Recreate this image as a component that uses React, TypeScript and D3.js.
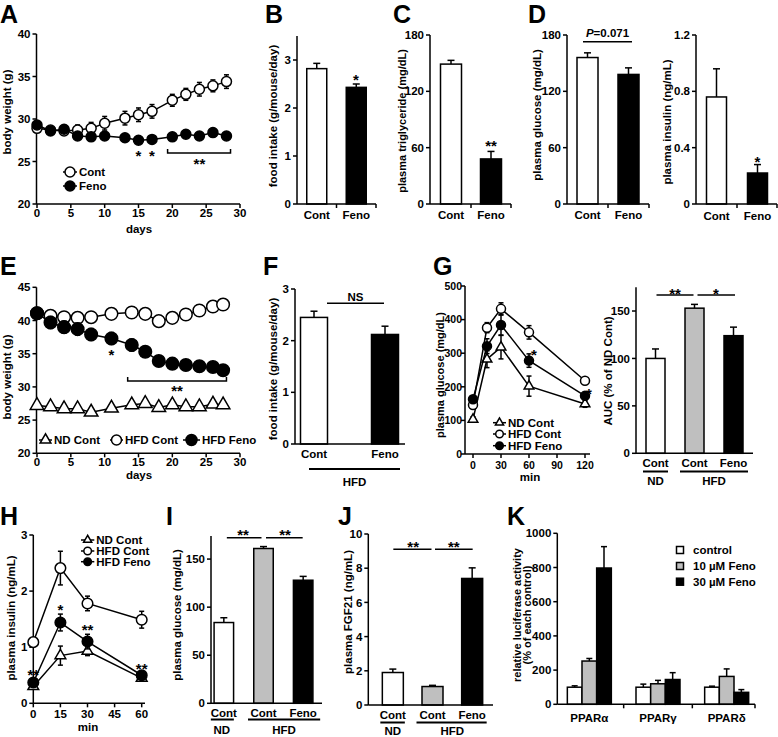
import React from "react";
import * as d3 from "d3";

const FONT = "'Liberation Sans', Arial, Helvetica, sans-serif";
const GREY = "#bfbfbf";
const SW = 1.5;
const FS = 11.5;

// ---------- A : body weight (chow) ----------
const daysA = [0, 2, 4, 6, 8, 10, 13, 15, 17, 20, 22, 24, 26, 28];
const contA = [28.9, 28.7, 28.6, 28.7, 28.9, 29.5, 30.1, 30.5, 30.9, 32.2, 32.9, 33.5, 33.9, 34.4];
const contAErr = [0.4, 0.5, 0.5, 0.6, 0.7, 0.8, 0.8, 0.8, 0.8, 0.7, 0.7, 0.8, 0.7, 0.8];
const fenoA = [29.3, 28.6, 28.8, 28.0, 27.9, 28.0, 27.8, 27.5, 27.6, 27.9, 28.2, 28.0, 28.4, 28.0];
const fenoAErr = [0.4, 0.5, 0.4, 0.4, 0.4, 0.4, 0.4, 0.4, 0.3, 0.3, 0.3, 0.3, 0.3, 0.3];
const ticksAx = [0, 5, 10, 15, 20, 25, 30];
const ticksAy = [20, 25, 30, 35, 40];

// ---------- B, C, D ----------
const catsCF = ["Cont", "Feno"];
const intakeB = [2.82, 2.43];
const intakeBErr = [0.11, 0.07];
const ticksB = [0, 1, 2, 3];
const tgC = [149, 48];
const tgCErr = [4, 8];
const ticksC = [0, 60, 120, 180];
const gluD = [156, 138];
const gluDErr = [5, 7];
const insD = [0.76, 0.22];
const insDErr = [0.2, 0.06];
const ticksDins = [0, 0.4, 0.8, 1.2];

// ---------- E : body weight (HFD) ----------
const daysE = [0, 2, 4, 6, 8, 11, 14, 16, 18, 20, 22, 24, 26, 27.5];
const ndE = [27.2, 27.0, 26.7, 26.7, 26.2, 26.8, 27.3, 27.5, 26.9, 27.3, 27.0, 27.0, 27.4, 27.3];
const ndEErr = [0.3, 0.3, 0.3, 0.3, 0.3, 0.3, 0.3, 0.3, 0.3, 0.3, 0.3, 0.3, 0.3, 0.3];
const hfdContE = [41.1, 40.7, 40.5, 40.4, 40.5, 41.0, 41.2, 41.0, 39.9, 40.4, 40.9, 41.5, 42.1, 42.4];
const hfdContEErr = [0.8, 0.7, 0.7, 0.8, 0.7, 0.7, 0.8, 0.7, 0.7, 0.7, 0.7, 0.8, 0.8, 0.8];
const hfdFenoE = [41.1, 39.7, 39.0, 38.7, 37.9, 37.3, 36.3, 35.3, 33.9, 33.5, 33.3, 33.1, 33.0, 32.5];
const hfdFenoEErr = [0.8, 0.9, 0.9, 0.9, 0.9, 0.9, 0.9, 0.7, 0.5, 0.4, 0.4, 0.4, 0.4, 0.4];
const ticksEx = [0, 5, 10, 15, 20, 25, 30];
const ticksEy = [20, 25, 30, 35, 40, 45];

// ---------- F ----------
const intakeF = [2.45, 2.12];
const intakeFErr = [0.12, 0.16];
const ticksF = [0, 1, 2, 3];

// ---------- G : GTT ----------
const timeG = [0, 15, 30, 60, 120];
const ndG = [103, 282, 318, 202, 149];
const ndGErr = [8, 25, 35, 30, 10];
const hfdContG = [146, 376, 432, 362, 218];
const hfdContGErr = [10, 15, 18, 20, 8];
const hfdFenoG = [163, 321, 384, 278, 173];
const hfdFenoGErr = [8, 22, 30, 20, 10];
const ticksGx = [0, 30, 60, 90, 120];
const ticksGy = [0, 100, 200, 300, 400, 500];
const cats3 = ["ND Cont", "HFD Cont", "HFD Feno"];
const cats3Labels = ["Cont", "Cont", "Feno"];
const aucG = [100, 153, 124];
const aucGErr = [10, 4, 9];
const ticksAuc = [0, 50, 100, 150];

// ---------- H : insulin ----------
const timeH = [0, 15, 30, 60];
const ndH = [0.3, 0.85, 0.93, 0.45];
const ndHErr = [0.05, 0.17, 0.08, 0.05];
const hfdContH = [1.09, 2.41, 1.78, 1.49];
const hfdContHErr = [0.05, 0.3, 0.13, 0.15];
const hfdFenoH = [0.37, 1.44, 1.1, 0.5];
const hfdFenoHErr = [0.05, 0.15, 0.13, 0.05];
const ticksHx = [0, 15, 30, 45, 60];
const ticksHy = [0, 1, 2, 3];

// ---------- I, J ----------
const gluI = [84, 161, 128];
const gluIErr = [5, 2, 4];
const ticksI = [0, 50, 100, 150];
const fgfJ = [1.9, 1.08, 7.4];
const fgfJErr = [0.2, 0.07, 0.62];
const ticksJ = [0, 2, 4, 6, 8, 10];

// ---------- K ----------
const groupsK = ["PPARα", "PPARγ", "PPARδ"];
const seriesK = ["control", "10 µM Feno", "30 µM Feno"];
const controlK = [100, 100, 100];
const controlKErr = [8, 18, 6];
const feno10K = [253, 120, 163];
const feno10KErr = [15, 20, 44];
const feno30K = [797, 145, 70];
const feno30KErr = [125, 40, 16];
const ticksK = [0, 200, 400, 600, 800, 1000];

const fills2 = ["#fff", "#000"];
const fills3 = ["#fff", GREY, "#000"];

type LS = d3.ScaleLinear<number, number>;

function Letter({ x, y, t }: { x: number; y: number; t: string }) {
  return (
    <text x={x} y={y} fontSize={25} fontWeight="bold">
      {t}
    </text>
  );
}

function YAxis({ x, scale, ticks, fmt, fs = FS, gap = 6 }: { x: number; scale: LS; ticks: number[]; fmt?: (v: number) => string; fs?: number; gap?: number }) {
  const [y0, y1] = scale.range();
  return (
    <g>
      <line x1={x} x2={x} y1={y0} y2={y1} stroke="#000" strokeWidth={SW} />
      {ticks.map((t) => (
        <g key={t}>
          <line x1={x - 4} x2={x} y1={scale(t)} y2={scale(t)} stroke="#000" strokeWidth={SW} />
          <text x={x - gap} y={scale(t)} dy="0.36em" textAnchor="end" fontSize={fs} fontWeight="bold">
            {fmt ? fmt(t) : String(t)}
          </text>
        </g>
      ))}
    </g>
  );
}

function XAxisLin({ y, scale, ticks, x0, x1, dy = 10, fs = FS }: { y: number; scale: LS; ticks: number[]; x0: number; x1: number; dy?: number; fs?: number }) {
  return (
    <g>
      <line x1={x0} x2={x1} y1={y} y2={y} stroke="#000" strokeWidth={SW} />
      {ticks.map((t) => (
        <g key={t}>
          <line x1={scale(t)} x2={scale(t)} y1={y} y2={y + 4} stroke="#000" strokeWidth={SW} />
          <text x={scale(t)} y={y + dy} dy="0.36em" textAnchor="middle" fontSize={fs} fontWeight="bold">
            {t}
          </text>
        </g>
      ))}
    </g>
  );
}

function YLabel({ x, y, t, fs = FS }: { x: number; y: number; t: string; fs?: number }) {
  return (
    <text transform={`translate(${x},${y}) rotate(-90)`} textAnchor="middle" dy="0.36em" fontSize={fs} fontWeight="bold">
      {t}
    </text>
  );
}

function Label({ x, y, t, anchor = "middle", fs = FS }: { x: number; y: number; t: string; anchor?: string; fs?: number }) {
  return (
    <text x={x} y={y} dy="0.36em" textAnchor={anchor as any} fontSize={fs} fontWeight="bold">
      {t}
    </text>
  );
}

function Stars({ x, y, n }: { x: number; y: number; n: number }) {
  return (
    <text x={x} y={y + 8.5} textAnchor="middle" fontSize={15} fontWeight="bold">
      {"*".repeat(n)}
    </text>
  );
}

function HLine({ x1, x2, y, w = SW }: { x1: number; x2: number; y: number; w?: number }) {
  return <line x1={x1} x2={x2} y1={y} y2={y} stroke="#000" strokeWidth={w} />;
}

function Bracket({ x1, x2, y }: { x1: number; x2: number; y: number }) {
  return <path d={`M${x1},${y - 4}V${y}H${x2}V${y - 4}`} fill="none" stroke="#000" strokeWidth={SW} />;
}

function Marker({ kind, cx, cy, r }: { kind: string; cx: number; cy: number; r: number }) {
  if (kind === "tri") {
    const s = r * 2.15;
    const h = (s * Math.sqrt(3)) / 2;
    return (
      <path
        d={`M${cx},${cy - (2 * h) / 3}L${cx - s / 2},${cy + h / 3}L${cx + s / 2},${cy + h / 3}Z`}
        fill="#fff"
        stroke="#000"
        strokeWidth={SW}
      />
    );
  }
  return <circle cx={cx} cy={cy} r={r} fill={kind === "filled" ? "#000" : "#fff"} stroke="#000" strokeWidth={SW} />;
}

function Series({ xs, ys, errs, x, y, kind, r }: { xs: number[]; ys: number[]; errs: number[]; x: LS; y: LS; kind: string; r: number }) {
  const line = d3
    .line<number>()
    .x((_, i) => x(xs[i]))
    .y((d) => y(d));
  return (
    <g>
      <path d={line(ys) || ""} fill="none" stroke="#000" strokeWidth={SW} />
      {ys.map((v, i) => {
        const cx = x(xs[i]);
        const lo = y(v - errs[i]);
        const hi = y(v + errs[i]);
        return (
          <g key={i}>
            <line x1={cx} x2={cx} y1={lo} y2={hi} stroke="#000" strokeWidth={SW} />
            <line x1={cx - 2.5} x2={cx + 2.5} y1={lo} y2={lo} stroke="#000" strokeWidth={SW} />
            <line x1={cx - 2.5} x2={cx + 2.5} y1={hi} y2={hi} stroke="#000" strokeWidth={SW} />
            <Marker kind={kind} cx={cx} cy={y(v)} r={r} />
          </g>
        );
      })}
    </g>
  );
}

function LegendRow({ x1, x2, y, kind, r, t }: { x1: number; x2: number; y: number; kind: string; r: number; t: string }) {
  return (
    <g>
      <HLine x1={x1} x2={x2} y={y} />
      <Marker kind={kind} cx={(x1 + x2) / 2} cy={y} r={r} />
      <Label x={x2 + 2} y={y} t={t} anchor="start" />
    </g>
  );
}

function Bars({ cx, vals, errs, fills, w, y }: { cx: number[]; vals: number[]; errs: number[]; fills: string[]; w: number; y: LS }) {
  return (
    <g>
      {vals.map((v, i) => {
        const top = y(v + errs[i]);
        return (
          <g key={i}>
            <line x1={cx[i]} x2={cx[i]} y1={y(v)} y2={top} stroke="#000" strokeWidth={SW} />
            <line x1={cx[i] - 3.5} x2={cx[i] + 3.5} y1={top} y2={top} stroke="#000" strokeWidth={SW} />
            <rect x={cx[i] - w / 2} y={y(v)} width={w} height={y(0) - y(v)} fill={fills[i]} stroke="#000" strokeWidth={SW} />
          </g>
        );
      })}
    </g>
  );
}

function BarPanel({
  axisX,
  axisEnd,
  catRange,
  cats,
  labels,
  vals,
  errs,
  fills,
  w,
  y,
  ticks,
  fmt,
  labelDy,
  catTicks,
}: {
  axisX: number;
  axisEnd: number;
  catRange: [number, number];
  cats: string[];
  labels: string[];
  vals: number[];
  errs: number[];
  fills: string[];
  w: number;
  y: LS;
  ticks: number[];
  fmt?: (v: number) => string;
  labelDy: number;
  catTicks: boolean;
}) {
  const px = d3.scalePoint<string>().domain(cats).range(catRange).padding(0.5);
  const cx = cats.map((c) => px(c) as number);
  const y0 = y(0);
  const tickXs: number[] = [];
  if (catTicks) {
    for (let i = 0; i < cx.length - 1; i++) tickXs.push((cx[i] + cx[i + 1]) / 2);
    tickXs.push(axisEnd);
  }
  return (
    <g>
      <Bars cx={cx} vals={vals} errs={errs} fills={fills} w={w} y={y} />
      <YAxis x={axisX} scale={y} ticks={ticks} fmt={fmt} />
      <HLine x1={axisX} x2={axisEnd} y={y0} />
      {tickXs.map((t, i) => (
        <line key={i} x1={t} x2={t} y1={y0} y2={y0 + 4} stroke="#000" strokeWidth={SW} />
      ))}
      {labels.map((l, i) => (
        <Label key={i} x={cx[i]} y={y0 + labelDy} t={l} />
      ))}
    </g>
  );
}

function PanelA() {
  const x = d3.scaleLinear().domain([0, 30]).range([37, 240]);
  const y = d3.scaleLinear().domain([20, 40]).range([204, 34]);
  return (
    <g>
      <Letter x={0} y={23} t="A" />
      <YAxis x={36.5} scale={y} ticks={ticksAy} />
      <XAxisLin y={204} scale={x} ticks={ticksAx} x0={36.5} x1={240} dy={8.5} />
      <Label x={139} y={229} t="days" />
      <YLabel x={7} y={112} t="body weight (g)" />
      <Series xs={daysA} ys={contA} errs={contAErr} x={x} y={y} kind="open" r={5} />
      <Series xs={daysA} ys={fenoA} errs={fenoAErr} x={x} y={y} kind="filled" r={5} />
      <Stars x={x(15)} y={152} n={1} />
      <Stars x={x(17)} y={152} n={1} />
      <Bracket x1={x(19.3)} x2={x(28.6)} y={153} />
      <Stars x={x(24)} y={160} n={2} />
      <LegendRow x1={63} x2={77} y={172} kind="open" r={5} t="Cont" />
      <LegendRow x1={63} x2={77} y={186} kind="filled" r={5} t="Feno" />
    </g>
  );
}

function PanelBCD() {
  const yB = d3.scaleLinear().domain([0, 3.5]).range([204, 36]);
  const yC = d3.scaleLinear().domain([0, 180]).range([204, 35]);
  const yD = d3.scaleLinear().domain([0, 180]).range([204, 35]);
  const yDi = d3.scaleLinear().domain([0, 1.2]).range([204, 35]);
  const f1 = (v: number) => (v === 0 ? "0" : v.toFixed(1));
  return (
    <g>
      <Letter x={265} y={23} t="B" />
      <BarPanel axisX={297} axisEnd={376} catRange={[297, 376]} cats={catsCF} labels={catsCF} vals={intakeB} errs={intakeBErr} fills={fills2} w={20} y={yB} ticks={ticksB} labelDy={11} catTicks={true} />
      <YLabel x={273} y={116} t="food intake (g/mouse/day)" />
      <Stars x={356} y={yB(2.65)} n={1} />

      <Letter x={393} y={23} t="C" />
      <BarPanel axisX={430} axisEnd={511} catRange={[431, 511]} cats={catsCF} labels={catsCF} vals={tgC} errs={tgCErr} fills={fills2} w={21} y={yC} ticks={ticksC} labelDy={11} catTicks={true} />
      <YLabel x={402} y={121} t="plasma triglyceride (mg/dL)" fs={11} />
      <Stars x={491} y={yC(65)} n={2} />

      <Letter x={528} y={23} t="D" />
      <BarPanel axisX={567} axisEnd={649} catRange={[567, 649]} cats={catsCF} labels={catsCF} vals={gluD} errs={gluDErr} fills={fills2} w={21} y={yD} ticks={ticksC} labelDy={11} catTicks={true} />
      <YLabel x={537} y={115} t="plasma glucose (mg/dL)" />
      <HLine x1={583} x2={632} y={41.7} />
      <text x={607.5} y={33.3} dy="0.36em" textAnchor="middle" fontSize={FS} fontWeight="bold">
        <tspan fontStyle="italic">P</tspan>=0.071
      </text>

      <BarPanel axisX={696} axisEnd={777} catRange={[696, 778]} cats={catsCF} labels={catsCF} vals={insD} errs={insDErr} fills={fills2} w={20} y={yDi} ticks={ticksDins} fmt={f1} labelDy={12} catTicks={true} />
      <YLabel x={667} y={122} t="plasma insulin (ng/mL)" />
      <Stars x={757.5} y={yDi(0.32)} n={1} />
    </g>
  );
}

function PanelE() {
  const x = d3.scaleLinear().domain([0, 30]).range([37, 240]);
  const y = d3.scaleLinear().domain([20, 45]).range([453.3, 287.3]);
  return (
    <g>
      <Letter x={0} y={275} t="E" />
      <YAxis x={36.5} scale={y} ticks={ticksEy} />
      <XAxisLin y={453.3} scale={x} ticks={ticksEx} x0={36.5} x1={240} dy={9} />
      <Label x={139} y={475} t="days" />
      <YLabel x={7} y={377} t="body weight (g)" />
      <Series xs={daysE} ys={ndE} errs={ndEErr} x={x} y={y} kind="tri" r={6.3} />
      <Series xs={daysE} ys={hfdContE} errs={hfdContEErr} x={x} y={y} kind="open" r={6.3} />
      <Series xs={daysE} ys={hfdFenoE} errs={hfdFenoEErr} x={x} y={y} kind="filled" r={6.3} />
      <Stars x={x(11)} y={351.5} n={1} />
      <Bracket x1={x(13.4)} x2={x(28)} y={381} />
      <Stars x={x(20.7)} y={387} n={2} />
      <LegendRow x1={39} x2={52} y={440} kind="tri" r={5} t="ND Cont" />
      <LegendRow x1={110} x2={123} y={440} kind="open" r={5} t="HFD Cont" />
      <LegendRow x1={183} x2={200} y={440} kind="filled" r={5.5} t="HFD Feno" />
    </g>
  );
}

function PanelF() {
  const y = d3.scaleLinear().domain([0, 3]).range([444, 289]);
  return (
    <g>
      <Letter x={263} y={275} t="F" />
      <BarPanel axisX={295} axisEnd={405} catRange={[278.5, 420.5]} cats={catsCF} labels={catsCF} vals={intakeF} errs={intakeFErr} fills={fills2} w={27} y={y} ticks={ticksF} labelDy={9.5} catTicks={false} />
      <YLabel x={273} y={369} t="food intake (g/mouse/day)" />
      <HLine x1={327} x2={384} y={303.3} />
      <Label x={355.5} y={296.5} t="NS" />
      <HLine x1={309} x2={400} y={469} w={2} />
      <Label x={354.5} y={482} t="HFD" />
    </g>
  );
}

function PanelG() {
  const x = d3.scaleLinear().domain([0, 120]).range([473, 585]);
  const y = d3.scaleLinear().domain([0, 500]).range([454, 286]);
  const yA = d3.scaleLinear().domain([0, 175]).range([453.3, 287.3]);
  const px = d3.scalePoint<string>().domain(cats3).range([636, 753]).padding(0.5);
  const c = cats3.map((k) => px(k) as number);
  return (
    <g>
      <Letter x={433} y={275} t="G" />
      <YAxis x={465} scale={y} ticks={ticksGy} fs={10.5} gap={3} />
      <XAxisLin y={454} scale={x} ticks={ticksGx} x0={465} x1={590} dy={11} fs={10.5} />
      <Label x={530} y={477} t="min" />
      <YLabel x={440} y={375} t="plasma glucose (mg/dL)" fs={11} />
      <Series xs={timeG} ys={ndG} errs={ndGErr} x={x} y={y} kind="tri" r={4.5} />
      <Series xs={timeG} ys={hfdContG} errs={hfdContGErr} x={x} y={y} kind="open" r={4.5} />
      <Series xs={timeG} ys={hfdFenoG} errs={hfdFenoGErr} x={x} y={y} kind="filled" r={4.5} />
      <Stars x={x(60) + 5} y={y(278) - 9} n={1} />
      <Stars x={x(120) + 4} y={y(173) - 5} n={1} />
      <LegendRow x1={493} x2={506} y={422.7} kind="tri" r={3.8} t="ND Cont" />
      <LegendRow x1={493} x2={506} y={434} kind="open" r={3.8} t="HFD Cont" />
      <LegendRow x1={493} x2={506} y={445.7} kind="filled" r={3.8} t="HFD Feno" />

      <BarPanel axisX={636} axisEnd={753} catRange={[636, 753]} cats={cats3} labels={cats3Labels} vals={aucG} errs={aucGErr} fills={fills3} w={19} y={yA} ticks={ticksAuc} labelDy={9.5} catTicks={false} />
      <YLabel x={608} y={371} t="AUC (% of ND Cont)" />
      <HLine x1={c[0] + 1} x2={c[1] - 1} y={295} />
      <HLine x1={c[1] + 3} x2={c[2] + 1.5} y={295} />
      <Stars x={(c[0] + c[1]) / 2} y={290} n={2} />
      <Stars x={(c[1] + c[2]) / 2 + 2} y={290} n={1} />
      <HLine x1={c[0] - 12.5} x2={c[0] + 12.5} y={471.5} w={2} />
      <Label x={c[0]} y={481} t="ND" />
      <HLine x1={c[1] - 14.5} x2={c[2] + 14.5} y={471.5} w={2} />
      <Label x={(c[1] + c[2]) / 2} y={481} t="HFD" />
    </g>
  );
}

function PanelH() {
  const x = d3.scaleLinear().domain([0, 60]).range([33.3, 141.7]);
  const y = d3.scaleLinear().domain([0, 3]).range([703.3, 535]);
  return (
    <g>
      <Letter x={0} y={525} t="H" />
      <YAxis x={33.3} scale={y} ticks={ticksHy} />
      <XAxisLin y={703.3} scale={x} ticks={ticksHx} x0={33.3} x1={145} dy={11} />
      <Label x={88} y={727} t="min" />
      <YLabel x={11} y={618} t="plasma insulin (ng/mL)" />
      <Series xs={timeH} ys={ndH} errs={ndHErr} x={x} y={y} kind="tri" r={5} />
      <Series xs={timeH} ys={hfdContH} errs={hfdContHErr} x={x} y={y} kind="open" r={5.3} />
      <Series xs={timeH} ys={hfdFenoH} errs={hfdFenoHErr} x={x} y={y} kind="filled" r={5.3} />
      <Stars x={x(0)} y={671} n={2} />
      <Stars x={x(15)} y={606} n={1} />
      <Stars x={x(30)} y={626.5} n={2} />
      <Stars x={x(60)} y={665} n={2} />
      <LegendRow x1={81} x2={94.3} y={540} kind="tri" r={3.8} t="ND Cont" />
      <LegendRow x1={81} x2={94.3} y={551} kind="open" r={3.8} t="HFD Cont" />
      <LegendRow x1={81} x2={94.3} y={561.7} kind="filled" r={3.8} t="HFD Feno" />
    </g>
  );
}

function PanelIJ() {
  const yI = d3.scaleLinear().domain([0, 174]).range([703.3, 536]);
  const yJ = d3.scaleLinear().domain([0, 10]).range([705, 534]);
  const pI = d3.scalePoint<string>().domain(cats3).range([204, 323]).padding(0.5);
  const pJ = d3.scalePoint<string>().domain(cats3).range([373, 492]).padding(0.5);
  const cI = cats3.map((k) => pI(k) as number);
  const cJ = cats3.map((k) => pJ(k) as number);
  return (
    <g>
      <Letter x={166} y={525} t="I" />
      <BarPanel axisX={211} axisEnd={322} catRange={[204, 323]} cats={cats3} labels={cats3Labels} vals={gluI} errs={gluIErr} fills={fills3} w={19.5} y={yI} ticks={ticksI} labelDy={10} catTicks={false} />
      <YLabel x={177} y={615} t="plasma glucose (mg/dL)" />
      <HLine x1={cI[0] + 3} x2={cI[1] - 2} y={537.7} />
      <HLine x1={cI[1] + 2.5} x2={cI[2] - 0.5} y={537.7} />
      <Stars x={243} y={531.7} n={2} />
      <Stars x={285} y={531.7} n={2} />
      <HLine x1={cI[0] - 13} x2={cI[0] + 10} y={719.5} w={2} />
      <Label x={cI[0] - 2} y={729.5} t="ND" />
      <HLine x1={cI[1] - 15.5} x2={cI[2] + 17} y={719.5} w={2} />
      <Label x={284} y={729.5} t="HFD" />

      <Letter x={338} y={525} t="J" />
      <BarPanel axisX={368.3} axisEnd={493} catRange={[373, 492]} cats={cats3} labels={cats3Labels} vals={fgfJ} errs={fgfJErr} fills={fills3} w={21} y={yJ} ticks={ticksJ} labelDy={10} catTicks={false} />
      <YLabel x={348} y={612} t="plasma FGF21 (ng/mL)" />
      <HLine x1={cJ[0] + 0.5} x2={cJ[1] - 1} y={549.3} />
      <HLine x1={cJ[1] + 2.5} x2={cJ[2] + 0.5} y={549.3} />
      <Stars x={(cJ[0] + cJ[1]) / 2 + 0.5} y={543.3} n={2} />
      <Stars x={(cJ[1] + cJ[2]) / 2 + 1.5} y={543.3} n={2} />
      <HLine x1={cJ[0] - 12.5} x2={cJ[0] + 12} y={722.5} w={2} />
      <Label x={cJ[0]} y={730.5} t="ND" />
      <HLine x1={cJ[1] - 16} x2={cJ[2] + 14.5} y={722.5} w={2} />
      <Label x={(cJ[1] + cJ[2]) / 2} y={730.5} t="HFD" />
    </g>
  );
}

function PanelK() {
  const y = d3.scaleLinear().domain([0, 1000]).range([704.3, 533.3]);
  const gx = d3.scaleBand<string>().domain(groupsK).range([555, 761]).padding(0);
  const sx = d3.scaleBand<string>().domain(seriesK).range([0, 44]).padding(0);
  const vals = [controlK, feno10K, feno30K];
  const errs = [controlKErr, feno10KErr, feno30KErr];
  const y0 = y(0);
  const bounds = groupsK.slice(1).map((g) => gx(g) as number).concat([755]);
  return (
    <g>
      <Letter x={507} y={525} t="K" />
      {groupsK.map((g, gi) => {
        const center = (gx(g) as number) + gx.bandwidth() / 2;
        return (
          <g key={g}>
            {seriesK.map((s, si) => {
              const v = vals[si][gi];
              const e = errs[si][gi];
              const bx = center - 22 + (sx(s) as number);
              const cx = bx + sx.bandwidth() / 2;
              return (
                <g key={s}>
                  <line x1={cx} x2={cx} y1={y(v)} y2={y(v + e)} stroke="#000" strokeWidth={SW} />
                  <line x1={cx - 3} x2={cx + 3} y1={y(v + e)} y2={y(v + e)} stroke="#000" strokeWidth={SW} />
                  <rect x={bx} y={y(v)} width={sx.bandwidth()} height={y0 - y(v)} fill={fills3[si]} stroke="#000" strokeWidth={SW} />
                </g>
              );
            })}
            <Label x={center} y={718.3} t={g} />
          </g>
        );
      })}
      <YAxis x={557.3} scale={y} ticks={ticksK} />
      <HLine x1={557.3} x2={755} y={y0} />
      {bounds.map((b, i) => (
        <line key={i} x1={b} x2={b} y1={y0} y2={y0 + 4} stroke="#000" strokeWidth={SW} />
      ))}
      <text transform={`translate(516.7,615) rotate(-90)`} textAnchor="middle" dy="0.36em" fontSize={11} fontWeight="bold">
        relative luciferase activity
      </text>
      <text transform={`translate(527,615) rotate(-90)`} textAnchor="middle" dy="0.36em" fontSize={11} fontWeight="bold">
        (% of each control)
      </text>
      {seriesK.map((s, i) => {
        const ly = [550, 566, 581.7][i];
        return (
          <g key={s}>
            <rect x={676.5} y={ly - 3.5} width={7} height={7} fill={fills3[i]} stroke="#000" strokeWidth={SW} />
            <Label x={693} y={ly} t={s} anchor="start" />
          </g>
        );
      })}
    </g>
  );
}

export default function App() {
  return (
    <svg
      width={778}
      height={737}
      viewBox="0 0 778 737"
      style={{ position: "absolute", left: 0, top: 0, background: "#fff" }}
      fontFamily={FONT}
    >
      <rect width={778} height={737} fill="#fff" />
      <PanelA />
      <PanelBCD />
      <PanelE />
      <PanelF />
      <PanelG />
      <PanelH />
      <PanelIJ />
      <PanelK />
    </svg>
  );
}
